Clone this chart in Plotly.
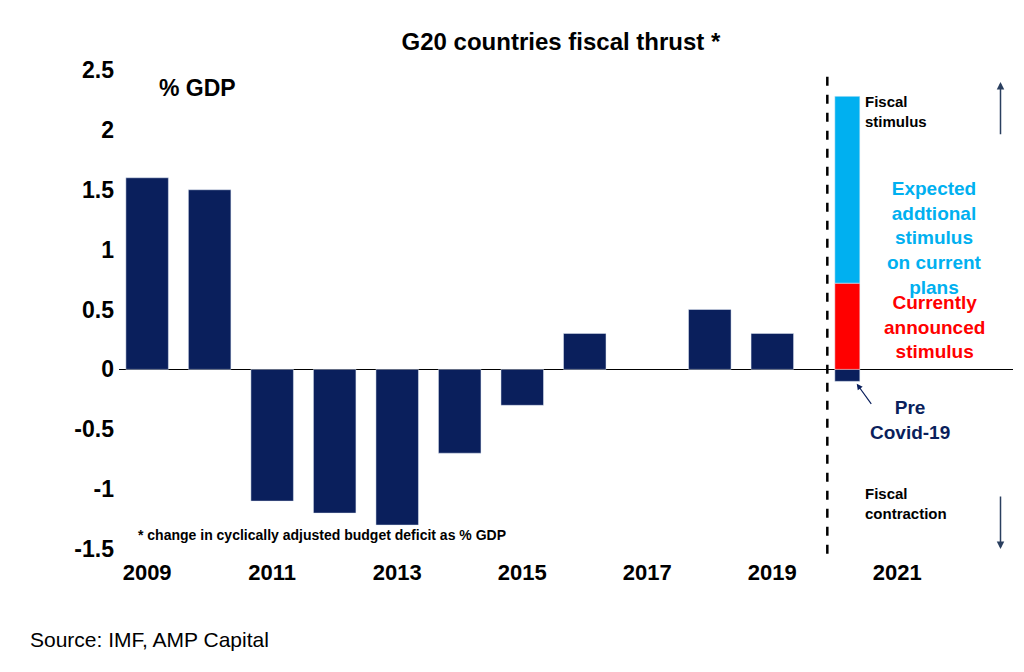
import plotly.graph_objects as go

years = [2009, 2010, 2011, 2012, 2013, 2014, 2015, 2016, 2018, 2019]
thrust = [1.6, 1.5, -1.1, -1.2, -1.3, -0.7, -0.3, 0.3, 0.5, 0.3]
pre_covid = -0.1
announced = 0.72
expected = 1.56
tick_years = [2009, 2011, 2013, 2015, 2017, 2019, 2021]

navy = "#0A1F5C"
fig = go.Figure()
fig.add_bar(x=years, y=thrust, marker_color=navy, width=0.68)
fig.add_bar(x=[2020.2], y=[pre_covid], marker_color=navy, width=0.4)
fig.add_bar(x=[2020.2], y=[announced], base=[0], marker_color="#FF0000", width=0.4)
fig.add_bar(x=[2020.2], y=[expected], base=[announced], marker_color="#00B0F0", width=0.4)

fig.add_shape(type="line", x0=2019.88, x1=2019.88, y0=-0.01, y1=1, yref="paper",
              line=dict(color="black", width=2.5, dash="dash"))

F = "Liberation Sans, Arial"
def ann(x, y, t, color="black", size=19, **k):
    fig.add_annotation(x=x, y=y, text=t, showarrow=False, font=dict(family=F, size=size, color=color), **k)

ann(2021.6, 1.1, "<b>Expected<br>addtional<br>stimulus<br>on current<br>plans</b>", "#00B0F0", 19, xanchor="center")
ann(2021.6, 0.35, "<b>Currently<br>announced<br>stimulus</b>", "#FF0000", 19, xanchor="center")
ann(2021.2, -0.42, "<b>Pre<br>Covid-19</b>", navy, 19, xanchor="center")
ann(2020.45, 2.15, "<b>Fiscal<br>stimulus</b>", size=15, xanchor="left", align="left")
ann(2020.45, -1.12, "<b>Fiscal<br>contraction</b>", size=15, xanchor="left", align="left")
ann(2009.15, 2.35, "<b>% GDP</b>", size=23, xanchor="left")
ann(2008.82, -1.38, "<b>* change in cyclically adjusted budget deficit as % GDP</b>", size=14, xanchor="left")
fig.add_annotation(x=2022.65, y=2.4, ax=2022.65, ay=1.95, axref="x", ayref="y", showarrow=True,
                   arrowhead=2, arrowwidth=1.5, text="")
fig.add_annotation(x=2022.65, y=-1.5, ax=2022.65, ay=-1.05, axref="x", ayref="y", showarrow=True,
                   arrowhead=2, arrowwidth=1.5, text="")
fig.add_annotation(x=2020.35, y=-0.12, ax=2020.6, ay=-0.3, axref="x", ayref="y", showarrow=True,
                   arrowhead=2, arrowwidth=1.2, arrowcolor=navy, text="")
fig.add_annotation(x=0, y=-0.217, xref="paper", yref="paper", text="Source: IMF, AMP Capital",
                   showarrow=False, xanchor="left", font=dict(family=F, size=21, color="black"), xshift=-91)

fig.update_layout(
    width=1024, height=672, barmode="overlay", showlegend=False,
    plot_bgcolor="white", paper_bgcolor="white",
    margin=dict(l=111, r=19, t=62, b=131),
    title=dict(text="<b>G20 countries fiscal thrust *</b>", x=0.54, y=0.962,
               font=dict(family=F, size=24, color="black")),
    xaxis=dict(range=[2008.55, 2022.85], tickvals=tick_years, ticks="", showline=False,
               tickfont=dict(family=F, size=22, color="black"), showgrid=False, zeroline=False,
               ticklabelstandoff=8, ticktext=[f"<b>{y}</b>" for y in tick_years]),
    yaxis=dict(range=[-1.5, 2.5], showgrid=False, zeroline=True, zerolinecolor="black",
               zerolinewidth=1, showline=False, ticks="",
               tickfont=dict(family=F, size=23, color="black"), ticklabelstandoff=4,
               tickvals=[2.5, 2, 1.5, 1, 0.5, 0, -0.5, -1, -1.5],
               ticktext=["<b>2.5</b>", "<b>2</b>", "<b>1.5</b>", "<b>1</b>", "<b>0.5</b>", "<b>0</b>",
                         "<b>-0.5</b>", "<b>-1</b>", "<b>-1.5</b>"]),
)
fig.write_html("out.html")
